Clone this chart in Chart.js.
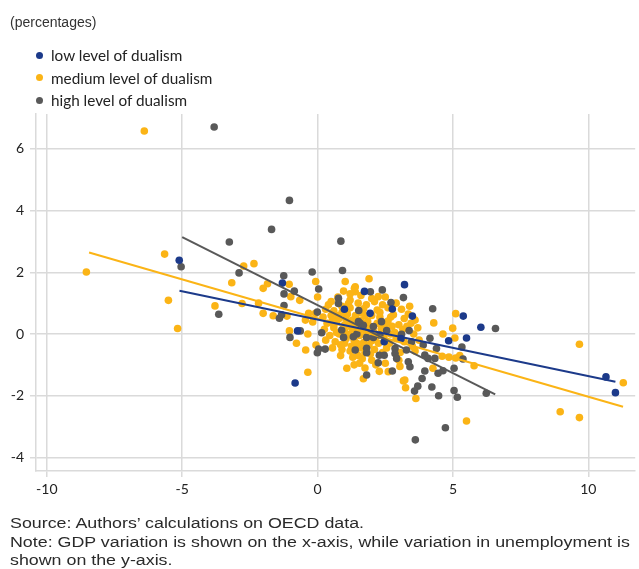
<!DOCTYPE html>
<html>
<head>
<meta charset="utf-8">
<script src="https://cdn.jsdelivr.net/npm/chart.js@4.4.1/dist/chart.umd.min.js"></script>
<style>
  html, body { margin: 0; padding: 0; background: #fff; }
  #wrap { position: relative; width: 639px; height: 569px; overflow: hidden; }
  #chart { position: absolute; left: 0; top: 0; }
  .txt { position: absolute; color: #222; white-space: nowrap; }
  #unit { left: 10px; top: 14px; font: 14px "Liberation Sans", Arial, sans-serif; color: #333; }
  #legend { left: 36px; top: 44px; font: 15.3px Lato, sans-serif; }
  #legend .item { height: 22.5px; line-height: 20px; display: flex; align-items: center; }
  #legend .dot { width: 7px; height: 7px; border-radius: 50%; margin-right: 8px; }
  #foot { left: 10px; top: 514px; font: 15.5px "Liberation Sans", Arial, sans-serif; line-height: 18.5px;
          color: #2a2a2a; transform: scaleX(1.15); transform-origin: 0 0; }
</style>
</head>
<body>
<div id="wrap">
  <canvas id="chart" width="639" height="569"></canvas>
  <div id="unit" class="txt">(percentages)</div>
  <div id="legend" class="txt"></div>
  <div id="foot" class="txt">Source: Authors’ calculations on OECD data.<br>Note: GDP variation is shown on the x-axis, while variation in unemployment is<br>shown on the y-axis.</div>
</div>
<script>
// Series labels and colours
const seriesLabels = ['low level of dualism', 'medium level of dualism', 'high level of dualism'];
const seriesColors = ['#1c3a8a', '#fbb416', '#595959'];

// Tick values
const xTicks = [-10, -5, 0, 5, 10];
const yTicks = [-4, -2, 0, 2, 4, 6];

// GDP variation (x) vs. unemployment variation (y), low dualism
const lowPoints = [
  [-5.11, 2.39], [-1.30, 1.65], [-0.74, 0.10], [-0.83, -1.59], [0.99, 0.80],
  [1.73, 1.38], [1.94, 0.67], [2.46, -0.25], [2.76, 0.81], [3.08, -0.15],
  [3.21, 1.60], [3.50, 0.58], [4.84, -0.22], [5.38, 0.58], [5.50, -0.13],
  [6.03, 0.22], [10.65, -1.39], [11.00, -1.90]
];

// Medium dualism
const mediumPoints = [
  [-6.40, 6.58], [-5.65, 2.59], [-8.54, 2.01], [-2.73, 2.20], [-2.35, 2.28],
  [-1.05, 1.61], [-3.17, 1.66], [-1.85, 1.63], [-2.01, 1.48], [-0.99, 1.21],
  [-0.66, 1.09], [-0.07, 1.70], [0.00, 1.20], [-5.51, 1.09], [-3.79, 0.91],
  [-5.17, 0.18], [-2.79, 0.99], [-2.18, 1.00], [-2.01, 0.67], [-1.64, 0.59],
  [-1.13, 0.58], [-1.04, 0.10], [-0.78, -0.30], [-0.36, 0.00], [-0.44, -0.52],
  [-0.18, 0.39], [-0.08, 0.67], [-0.06, -0.36], [-0.36, -1.24], [-0.33, 0.67],
  [-0.45, 0.45], [1.90, 1.79], [0.96, 1.39], [1.39, 1.53], [1.39, 1.37],
  [1.02, 1.70], [1.36, 1.48], [1.14, 0.99], [2.24, 1.21], [5.10, 0.66],
  [4.29, 0.36], [4.99, 0.19], [4.63, 0.00], [5.07, -0.13], [5.78, -1.03],
  [3.63, -2.09], [3.25, -1.74], [3.17, -1.52], [5.50, -2.82], [9.67, -0.33],
  [8.96, -2.52], [9.67, -2.71], [11.29, -1.58], [1.08, -1.11], [1.69, -1.45],
  [2.28, -1.21], [4.26, -1.11], [3.04, -1.05], [3.22, -1.49], [2.61, -1.22],
  [4.60, -0.72], [4.85, -0.75], [5.10, -0.78], [5.25, -0.70],
  [1.60, 1.25], [2.00, 1.15], [2.50, 1.20], [1.20, 1.10], [0.50, 1.05],
  [0.40, 0.95], [0.90, 0.90], [1.50, 1.00], [1.80, 0.95], [2.10, 1.05], [2.40, 0.95], [2.90, 1.00],
  [0.30, 0.80], [0.60, 0.75], [1.20, 0.85], [1.70, 0.82], [2.20, 0.78], [2.60, 0.85], [3.10, 0.80], [3.40, 0.90],
  [0.20, 0.55], [0.50, 0.60], [0.80, 0.50], [1.10, 0.65], [1.40, 0.60], [2.00, 0.60], [2.30, 0.55], [2.80, 0.62], [3.20, 0.50], [3.60, 0.45],
  [0.35, 0.35], [0.70, 0.40], [1.00, 0.30], [1.30, 0.45], [1.85, 0.40], [2.20, 0.35], [2.60, 0.42], [3.00, 0.30], [3.45, 0.35],
  [0.25, 0.15], [0.60, 0.20], [0.95, 0.18], [1.25, 0.22], [1.60, 0.15], [1.95, 0.20], [2.35, 0.18], [2.75, 0.25], [3.15, 0.15], [3.70, 0.20],
  [0.45, -0.05], [0.80, 0.00], [1.15, -0.02], [1.55, -0.05], [2.10, 0.02], [2.45, -0.08], [2.85, 0.05], [3.55, 0.00],
  [0.30, -0.20], [0.65, -0.25], [1.00, -0.30], [1.35, -0.20], [1.70, -0.28], [2.00, -0.22], [2.65, -0.30], [3.20, -0.25], [3.75, -0.20],
  [0.55, -0.45], [0.90, -0.50], [1.20, -0.55], [1.55, -0.45], [2.10, -0.50], [2.55, -0.45], [3.05, -0.60], [3.60, -0.55],
  [0.85, -0.70], [1.30, -0.75], [1.65, -0.80], [2.00, -0.85], [2.50, -0.95], [3.00, -0.85],
  [1.35, -1.00], [1.75, -1.10], [2.15, -1.00],
  [0.60, 0.30], [0.75, 0.60], [0.90, 0.70], [1.05, 0.50], [1.15, 0.35], [1.30, 0.15], [1.45, 0.30],
  [1.60, 0.45], [1.75, 0.60], [1.90, 0.25], [2.05, 0.10], [2.15, -0.10], [1.90, -0.35], [1.75, -0.60],
  [1.50, -0.70], [1.45, -0.30], [1.25, -0.40], [1.05, -0.15], [0.85, -0.35], [0.70, 0.05], [1.00, 0.10],
  [1.40, 0.10], [1.80, 0.05], [2.25, -0.30], [2.40, -0.60], [2.30, 0.70], [2.50, 0.30], [2.70, 0.00],
  [2.90, -0.15], [1.20, 1.30], [0.75, 1.20], [1.60, 0.70], [1.10, 0.80], [0.55, 0.45], [1.55, -0.95],
  [1.95, -0.65], [2.70, 0.55], [3.30, 0.25], [3.50, -0.40], [3.35, 0.65]
];

// High dualism
const highPoints = [
  [-3.82, 6.71], [-1.04, 4.33], [-1.70, 3.39], [-3.26, 2.98], [-5.04, 2.18],
  [-2.90, 1.98], [-1.25, 1.89], [-1.24, 1.30], [-0.86, 1.39], [-0.20, 2.01],
  [0.04, 1.46], [-1.24, 0.92], [0.86, 3.01], [0.92, 2.06], [1.95, 1.37],
  [2.39, 1.43], [0.77, 1.16], [0.77, 0.99], [2.71, 1.02], [3.17, 1.18],
  [4.25, 0.82], [-3.65, 0.64], [-1.41, 0.51], [-1.33, 0.62], [-0.64, 0.10],
  [-1.02, -0.11], [-0.01, 0.71], [0.15, 0.04], [-0.01, -0.61], [0.04, -0.49],
  [0.28, -0.49], [6.57, 0.18], [4.15, -0.14], [5.33, -0.42], [5.37, -0.81],
  [5.04, -1.11], [3.96, -1.20], [3.86, -1.44], [3.70, -1.69], [3.58, -1.85],
  [4.22, -1.72], [4.47, -2.00], [5.04, -1.83], [5.16, -2.05], [6.23, -1.92],
  [4.72, -3.04], [3.61, -3.43], [1.81, -1.33], [2.76, -1.20], [2.24, -0.93],
  [2.28, -0.69], [2.46, -0.69], [1.81, -0.61], [0.96, -0.11], [0.89, 0.13],
  [1.45, 0.00], [1.81, -0.11], [2.06, -0.11], [1.52, 0.76], [1.57, 0.35],
  [1.69, 0.28], [2.06, 0.24], [2.36, 0.40], [2.55, 0.11], [3.10, -0.01],
  [3.38, 0.11], [3.47, -0.25], [3.28, -0.52], [2.86, -0.47], [2.92, -0.79],
  [3.35, -0.90], [3.41, -1.06], [3.90, -0.36], [3.96, -0.68], [4.08, -0.79],
  [4.33, -0.79], [4.39, -0.47], [4.45, -1.27], [4.63, -1.19], [1.51, 0.40],
  [1.32, -0.09], [1.39, -0.52], [1.81, -0.46], [2.30, -0.03], [2.86, -0.63]
];

// Fitted trend lines (end points)
const lowTrend = [[-5.10, 1.40], [11.00, -1.55]];
const mediumTrend = [[-8.44, 2.64], [11.28, -2.36]];
const highTrend = [[-5.00, 3.14], [6.56, -1.96]];

const toXY = arr => arr.map(p => ({ x: p[0], y: p[1] }));

function trendSet(pts, color) {
  return {
    type: 'line', data: toXY(pts), borderColor: color, borderWidth: 2,
    pointRadius: 0, fill: false, showLine: true, tension: 0
  };
}
function pointSet(label, pts, color) {
  return {
    type: 'scatter', label, data: toXY(pts), backgroundColor: color,
    borderWidth: 0, pointRadius: 3.8, pointHoverRadius: 3.8
  };
}

// first dataset is painted last, so trend lines come first
const datasets = [
  trendSet(lowTrend, seriesColors[0]),
  trendSet(highTrend, seriesColors[2]),
  trendSet(mediumTrend, seriesColors[1]),
  pointSet(seriesLabels[0], lowPoints, seriesColors[0]),
  pointSet(seriesLabels[2], highPoints, seriesColors[2]),
  pointSet(seriesLabels[1], mediumPoints, seriesColors[1])
];

const gridColor = '#dadada';
const tickFont = { family: 'Lato, sans-serif', size: 14 };

new Chart(document.getElementById('chart'), {
  type: 'scatter',
  data: { datasets },
  options: {
    responsive: false,
    animation: false,
    devicePixelRatio: 1,
    layout: { padding: { top: 114, right: 1, bottom: 68, left: 0 } },
    plugins: { legend: { display: false }, tooltip: { enabled: false } },
    scales: {
      x: {
        type: 'linear', min: -10.4, max: 11.73,
        afterBuildTicks: s => { s.ticks = xTicks.map(v => ({ value: v })); },
        afterFit: s => { s.height = 30; },
        grid: { color: gridColor, lineWidth: 1.5, tickLength: 6, drawTicks: true },
        border: { display: true, color: gridColor, width: 1.5 },
        ticks: { font: tickFont, color: '#222', padding: 4, maxRotation: 0 }
      },
      y: {
        type: 'linear', min: -4.44, max: 7.13,
        afterBuildTicks: s => { s.ticks = yTicks.map(v => ({ value: v })); },
        afterFit: s => { s.width = 36; },
        grid: { color: gridColor, lineWidth: 1.5, tickLength: 6, drawTicks: true },
        border: { display: true, color: gridColor, width: 1.5 },
        ticks: { font: tickFont, color: '#222', padding: 6 }
      }
    }
  }
});

// Legend rows built from the series labels and colours
const legend = document.getElementById('legend');
seriesLabels.forEach((label, i) => {
  const row = document.createElement('div');
  row.className = 'item';
  const dot = document.createElement('span');
  dot.className = 'dot';
  dot.style.background = seriesColors[i];
  row.appendChild(dot);
  row.appendChild(document.createTextNode(label));
  legend.appendChild(row);
});
</script>
</body>
</html>
